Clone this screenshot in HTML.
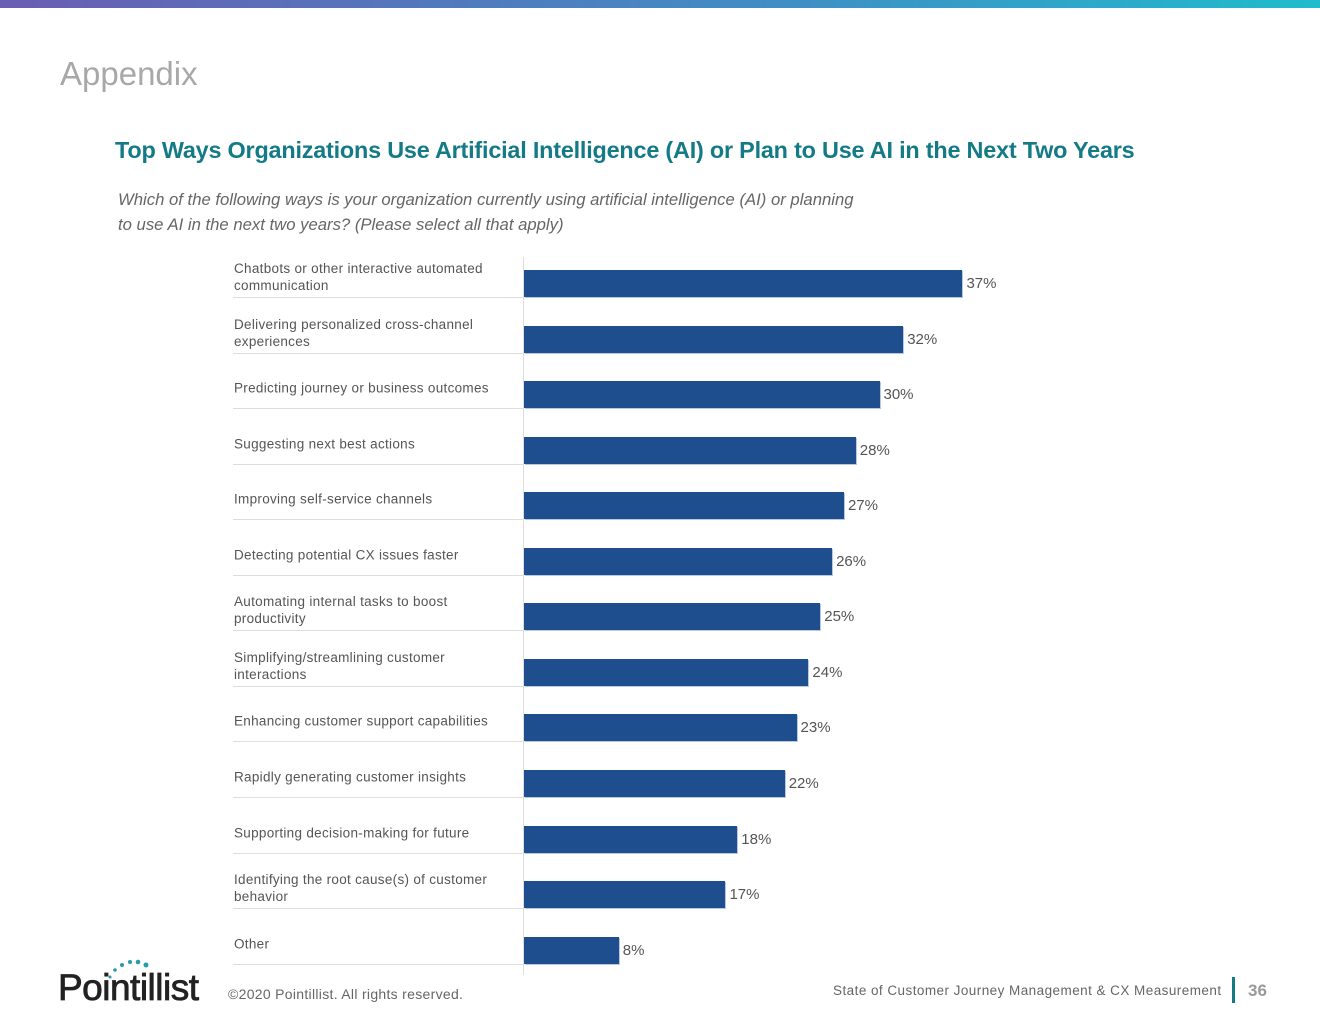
<!DOCTYPE html>
<html><head><meta charset="utf-8"><style>
body{margin:0;width:1320px;height:1020px;background:#fff;position:relative;overflow:hidden;font-family:"Liberation Sans",sans-serif}
.abs{position:absolute}
.lbl{position:absolute;left:234px;width:285px;font-size:13.5px;color:#555;line-height:17px;letter-spacing:0.3px;transform:translateY(-50%)}
.sep{position:absolute;left:233px;width:290px;height:1px;background:#ddd}
.bar{position:absolute;left:524px;height:27px;background:#1f4e8f;box-shadow:1px 1px 0 #b8c8e0}
.val{position:absolute;font-size:15px;color:#555}
</style></head><body>
<div class="abs" style="left:0;top:0;width:1320px;height:8px;background:linear-gradient(90deg,#6a5db4,#3f8fc4 60%,#1fbccc)"></div>
<div class="abs" style="left:60px;top:55px;font-size:33px;color:#a8a8a8">Appendix</div>
<div class="abs" style="left:115px;top:137px;font-size:23.4px;font-weight:bold;color:#137a86;letter-spacing:-0.2px">Top Ways Organizations Use Artificial Intelligence (AI) or Plan to Use AI in the Next Two Years</div>
<div class="abs" style="left:118px;top:187px;font-size:16.7px;font-style:italic;color:#666;line-height:25px">Which of the following ways is your organization currently using artificial intelligence (AI) or planning<br>to use AI in the next two years? (Please select all that apply)</div>
<div class="abs" style="left:523px;top:257px;width:1px;height:718px;background:#ddd"></div>
<div id="chart"></div>
<div class="abs" style="left:58px;top:955px;width:150px;height:50px">
<svg width="150" height="50"><g fill="#2a9aa8"><circle cx="52" cy="22" r="1.5"/><circle cx="57" cy="15" r="1.8"/><circle cx="64" cy="10" r="2"/><circle cx="72" cy="7" r="2"/><circle cx="80" cy="7" r="2.3"/><circle cx="88" cy="10" r="2.5"/></g>
<text x="0" y="45" font-size="37" font-family="Liberation Sans" fill="#222" stroke="#222" stroke-width="0.8" letter-spacing="-0.5">Pointillist</text></svg></div>
<div class="abs" style="left:228px;top:986px;font-size:14px;color:#666;letter-spacing:0.3px">©2020 Pointillist. All rights reserved.</div>
<div class="abs" style="left:833px;top:983px;font-size:13.5px;color:#666;letter-spacing:0.45px">State of Customer Journey Management &amp; CX Measurement</div>
<div class="abs" style="left:1232px;top:977px;width:3px;height:26px;background:#137a86"></div>
<div class="abs" style="left:1248px;top:981px;font-size:17px;font-weight:bold;color:#999">36</div>
<script>
const categories=["Chatbots or other interactive automated communication","Delivering personalized cross-channel experiences","Predicting journey or business outcomes","Suggesting next best actions","Improving self-service channels","Detecting potential CX issues faster","Automating internal tasks to boost productivity","Simplifying/streamlining customer interactions","Enhancing customer support capabilities","Rapidly generating customer insights","Supporting decision-making for future","Identifying the root cause(s) of customer behavior","Other"];
const values=[37,32,30,28,27,26,25,24,23,22,18,17,8];
const valueLabels=["37%","32%","30%","28%","27%","26%","25%","24%","23%","22%","18%","17%","8%"];
const chart=document.getElementById('chart');
const x=v=>v*11.85;
const rowY=i=>257+i*55.55;
categories.forEach((c,i)=>{
  const t=rowY(i);
  const l=document.createElement('div');l.className='lbl';l.style.top=(t+20)+'px';l.textContent=c;
  
  
  chart.appendChild(l);
  const s=document.createElement('div');s.className='sep';s.style.top=(t+40)+'px';
  
  
  chart.appendChild(s);
  const b=document.createElement('div');b.className='bar';b.style.top=(t+13)+'px';b.style.width=x(values[i])+'px';
  
  
  chart.appendChild(b);
  const v=document.createElement('div');v.className='val';v.style.top=(t+18)+'px';v.style.left=(524+x(values[i])+4)+'px';v.textContent=valueLabels[i];
  
  
  chart.appendChild(v);
});
</script>
</body></html>
